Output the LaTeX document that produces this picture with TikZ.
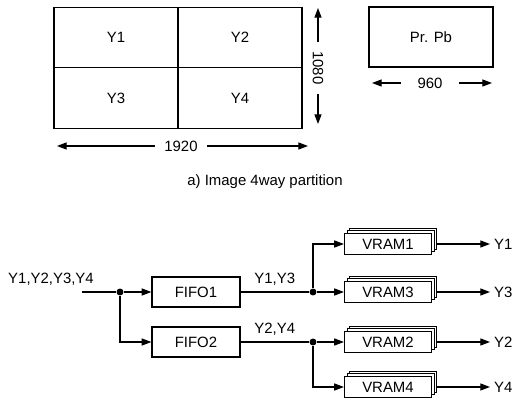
\documentclass[tikz,border=0pt]{standalone}
\usepackage{fontspec}
\setmainfont{Liberation Sans}
\usetikzlibrary{arrows.meta,shadows}

\tikzset{
  arr/.style={-{Triangle[length=5.5pt,width=4pt]}},
  cell/.style={draw, minimum width=2.48cm, minimum height=1.21cm, inner sep=0pt},
  fifo/.style={draw, fill=white, minimum width=1.76cm, minimum height=0.6cm, inner sep=0pt},
  vram/.style={draw, fill=white, minimum width=1.74cm, minimum height=0.42cm, inner sep=0pt,
    double copy shadow={shadow xshift=1.5pt, shadow yshift=1.5pt, draw, fill=white}},
  dot/.style={circle, fill, inner sep=1.4pt},
  dimlbl/.style={inner sep=5pt}
}

\begin{document}
\begin{tikzpicture}[x=0.02cm, y=-0.02cm, line width=0.7pt,
    font=\fontsize{8.5}{10}\selectfont]
\useasboundingbox (0,0) rectangle (517,402);

% Image partition
\foreach \n/\x/\y in {1/116/37.5, 2/240/37.5, 3/116/98, 4/240/98}
    \node[cell] (y\n) at (\x,\y) {Y\n};

\node[cell, minimum height=1.2cm] (prpb) at (431,37) {Pr. Pb};

% Dimension arrows
\node[dimlbl] (d1920) at (181,146) {1920};
\coordinate (l1920) at (57,146);
\coordinate (r1920) at (308,146);
\draw[arr] (d1920) -- (l1920);
\draw[arr] (d1920) -- (r1920);

\node[dimlbl, rotate=-90] (d1080) at (318,68) {1080};
\coordinate (t1080) at (318,8);
\coordinate (b1080) at (318,124);
\draw[arr] (d1080) -- (t1080);
\draw[arr] (d1080) -- (b1080);

\node[dimlbl, inner sep=9pt] (d960) at (430,83) {960};
\coordinate (l960) at (372,83);
\coordinate (r960) at (492,83);
\draw[arr] (d960) -- (l960);
\draw[arr] (d960) -- (r960);

% Caption
\node (cap) at (265,182) {a) Image 4way partition};

% Input and FIFOs
\node (inlbl) at (51,279) {Y1,Y2,Y3,Y4};
\coordinate (in) at (82,292);
\node[dot] (j0) at (120,292) {};
\node[fifo] (fifo1) at (196,292) {FIFO1};
\node[fifo] (fifo2) at (196,342) {FIFO2};

\draw (in) -- (j0);
\draw[arr] (j0) -- (fifo1);
\draw[arr] (j0) |- (fifo2.west);

% Splitting to VRAMs
\node[dot] (j1) at (313,292) {};
\node[dot] (j2) at (313,342) {};
\draw (fifo1) -- (j1) node[midway, above] {Y1,Y3};
\draw (fifo2) -- (j2) node[midway, above] {Y2,Y4};

\foreach \n/\y in {1/244, 3/292, 2/342, 4/387} {
    \node[vram] (vram\n) at (388,\y) {VRAM\n};
    \node[anchor=west, inner sep=2pt] (out\n) at (490,\y) {Y\n};
    \draw[arr, shorten <=3pt] (vram\n) -- (out\n);
}

\draw[arr] (j1) |- (vram1.west);
\draw[arr] (j1) -- (vram3);
\draw[arr] (j2) -- (vram2);
\draw[arr] (j2) |- (vram4.west);

\end{tikzpicture}
\end{document}
